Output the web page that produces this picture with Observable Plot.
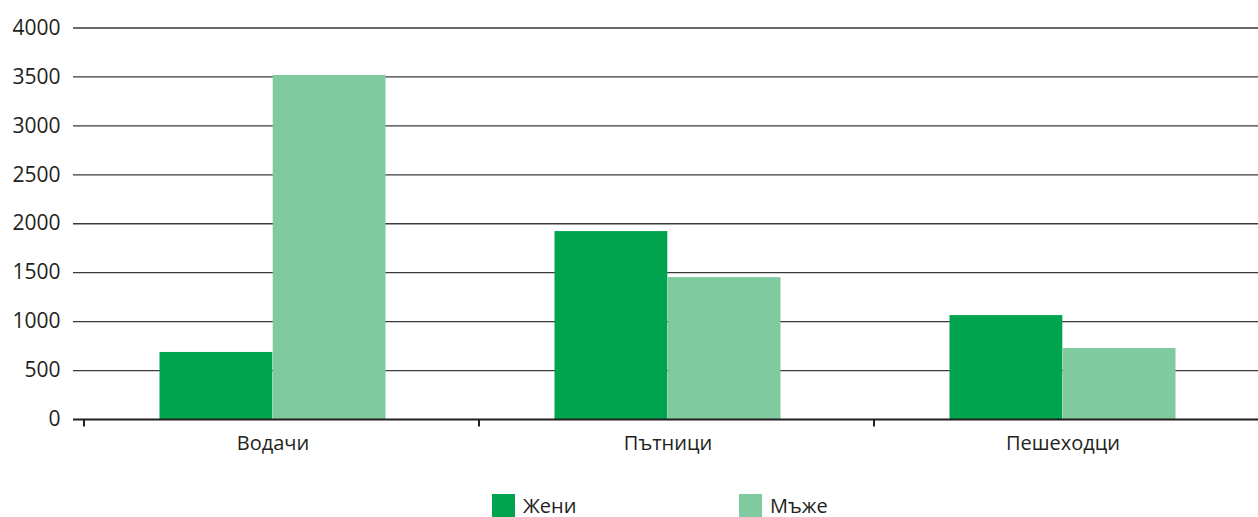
<!DOCTYPE html>
<html>
<head>
<meta charset="utf-8">
<script src="https://cdn.jsdelivr.net/npm/d3@7"></script>
<script src="https://cdn.jsdelivr.net/npm/@observablehq/plot@0.6"></script>
<style>
  html, body { margin: 0; padding: 0; background: #fff; }
  body { width: 1258px; height: 517px; overflow: hidden; font-family: "Open Sans", sans-serif; color: #231f20; }
  #chart svg { display: block; }
  #legend { position: relative; height: 37px; }
  .item { position: absolute; top: 14px; display: flex; align-items: center; font-size: 20px; line-height: 23px; height: 23px; }
  .sw { width: 23px; height: 23px; margin-right: 8px; }
</style>
</head>
<body>
<div id="chart"></div>
<div id="legend"></div>
<script>
const categories = ["Водачи", "Пътници", "Пешеходци"];
const series = ["Жени", "Мъже"];
const women = [685, 1920, 1062];
const men = [3515, 1450, 725];
const yTicks = [0, 500, 1000, 1500, 2000, 2500, 3000, 3500, 4000];
const colors = ["#00a44f", "#80ca9f"];

const womenData = categories.map((c, i) => ({cat: c, value: women[i]}));
const menData = categories.map((c, i) => ({cat: c, value: men[i]}));

const W = 1258, H = 480;
const bandStart = 74.6, bandEnd = 1260.7;
const bw = (bandEnd - bandStart) / categories.length;
const barW = 113.2;

const plot = Plot.plot({
  width: W,
  height: H,
  marginLeft: 73,
  marginRight: 0,
  marginTop: 20,
  marginBottom: 61,
  style: {fontFamily: "Open Sans, sans-serif", fontSize: "21px", color: "#231f20", background: "#fff"},
  x: {type: "band", domain: categories, range: [bandStart, bandEnd], padding: 0, label: null},
  y: {domain: [0, 4000], range: [419, 27.5], label: null},
  marks: [
    Plot.ruleY(yTicks.filter(d => d > 0), {stroke: "#3a3a3a", strokeWidth: 1.3}),
    Plot.barY(womenData, {x: "cat", y: "value", fill: colors[0], insetLeft: bw / 2 - barW, insetRight: bw / 2}),
    Plot.barY(menData, {x: "cat", y: "value", fill: colors[1], insetLeft: bw / 2, insetRight: bw / 2 - barW}),
    Plot.ruleY([0], {stroke: "#231f20", strokeWidth: 2.2}),
    Plot.ruleX(categories, {x: d => d, dx: -189, y1: 0, y2: 0, insetBottom: -7.5, stroke: "#231f20", strokeWidth: 2}),
    Plot.axisY({ticks: yTicks, tickSize: 0, tickPadding: 13, tickFormat: d => String(d), fill: "#231f20", fontSize: 21, label: null}),
    Plot.axisX({tickSize: 0, tickPadding: 16, fill: "#231f20", fontSize: 20, label: null})
  ]
});
document.getElementById("chart").appendChild(plot);

const legend = document.getElementById("legend");
const lefts = [492, 739];
series.forEach((s, i) => {
  const item = document.createElement("div");
  item.className = "item";
  item.style.left = lefts[i] + "px";
  const sw = document.createElement("span");
  sw.className = "sw";
  sw.style.background = colors[i];
  const t = document.createElement("span");
  t.textContent = s;
  item.appendChild(sw);
  item.appendChild(t);
  legend.appendChild(item);
});
</script>
</body>
</html>
